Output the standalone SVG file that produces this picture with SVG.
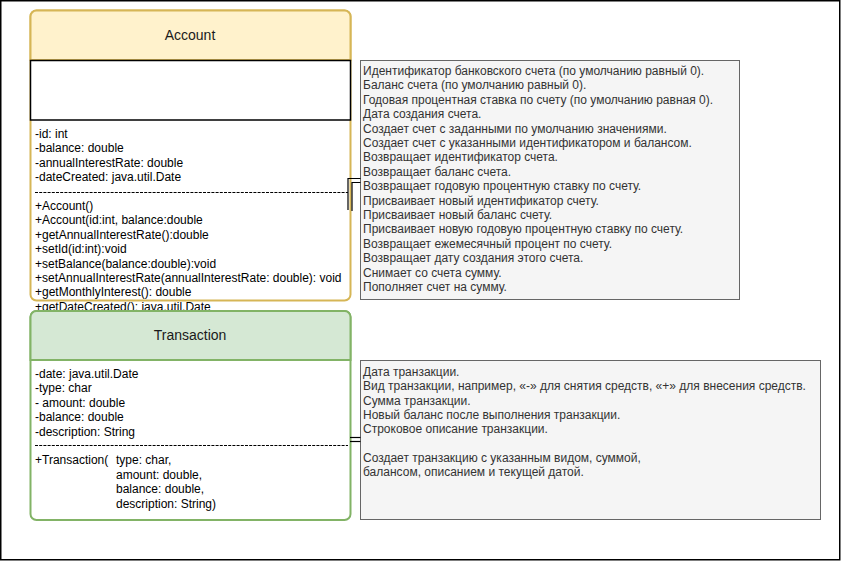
<svg xmlns="http://www.w3.org/2000/svg" width="841" height="561" viewBox="0 0 841 561">
<style>
  text { font-family: "Liberation Sans", Arial, sans-serif; font-size: 12px; fill: #000; }
  .title { font-size: 14px; fill: #1a1a1a; text-anchor: middle; }
  .note-text { fill: #333333; }
  .note { fill: #f5f5f5; stroke: #666666; stroke-width: 1; }
  .sep { stroke: #000; stroke-width: 1; stroke-dasharray: 3 1.2; }
  .conn { fill: none; stroke: #000; stroke-width: 1.2; }
</style>
<rect x="0.75" y="0.75" width="839" height="559" fill="#ffffff" stroke="#000" stroke-width="1.5"/>

<g id="account">
  <rect x="30.5" y="10.5" width="320" height="290" rx="6" ry="6" fill="#ffffff" stroke="#d6b656" stroke-width="2"/>
  <path d="M30.5,60 V16.5 A6,6 0 0 1 36.5,10.5 H344.5 A6,6 0 0 1 350.5,16.5 V60 Z" fill="#fff2cc" stroke="#d6b656" stroke-width="2"/>
  <text class="title" x="190" y="40">Account</text>
  <rect x="30.5" y="60.5" width="320" height="59.5" fill="#ffffff" stroke="#000" stroke-width="1.5"/>
  <text x="35" y="138">-id: int</text>
  <text x="35" y="152.4">-balance: double</text>
  <text x="35" y="166.8">-annualInterestRate: double</text>
  <text x="35" y="181.2">-dateCreated: java.util.Date</text>
  <line class="sep" x1="35" y1="192.5" x2="348" y2="192.5"/>
  <text x="35" y="210">+Account()</text>
  <text x="35" y="224.4">+Account(id:int, balance:double</text>
  <text x="35" y="238.8">+getAnnualInterestRate():double</text>
  <text x="35" y="253.2">+setId(id:int):void</text>
  <text x="35" y="267.6">+setBalance(balance:double):void</text>
  <text x="35" y="282">+setAnnualInterestRate(annualInterestRate: double): void</text>
  <text x="35" y="296.4">+getMonthlyInterest(): double</text>
  <text x="35" y="310.8">+getDateCreated(): java.util.Date</text>
</g>

<g id="transaction">
  <rect x="30.5" y="311" width="320" height="209" rx="6" ry="6" fill="#ffffff" stroke="#82b366" stroke-width="2"/>
  <path d="M30.5,360 V317 A6,6 0 0 1 36.5,311 H344.5 A6,6 0 0 1 350.5,317 V360 Z" fill="#d5e8d4" stroke="#82b366" stroke-width="2"/>
  <text class="title" x="190" y="340">Transaction</text>
  <text x="35" y="377.5">-date: java.util.Date</text>
  <text x="35" y="392">-type: char</text>
  <text x="35" y="406.5">- amount: double</text>
  <text x="35" y="421">-balance: double</text>
  <text x="35" y="435.5">-description: String</text>
  <line class="sep" x1="35" y1="445.5" x2="348" y2="445.5"/>
  <text x="35" y="464">+Transaction(</text>
  <text x="116" y="464">type: char,</text>
  <text x="116" y="478.5">amount: double,</text>
  <text x="116" y="493">balance: double,</text>
  <text x="116" y="507.5">description: String)</text>
</g>

<g id="note-account">
  <rect class="note" x="360.5" y="60.5" width="379" height="239"/>
  <text class="note-text" x="363" y="75">Идентификатор банковского счета (по умолчанию равный 0).</text>
  <text class="note-text" x="363" y="89.4">Баланс счета (по умолчанию равный 0).</text>
  <text class="note-text" x="363" y="103.8">Годовая процентная ставка по счету (по умолчанию равная 0).</text>
  <text class="note-text" x="363" y="118.2">Дата создания счета.</text>
  <text class="note-text" x="363" y="132.6">Создает счет с заданными по умолчанию значениями.</text>
  <text class="note-text" x="363" y="147">Создает счет с указанными идентификатором и балансом.</text>
  <text class="note-text" x="363" y="161.4">Возвращает идентификатор счета.</text>
  <text class="note-text" x="363" y="175.8">Возвращает баланс счета.</text>
  <text class="note-text" x="363" y="190.2">Возвращает годовую процентную ставку по счету.</text>
  <text class="note-text" x="363" y="204.6">Присваивает новый идентификатор счету.</text>
  <text class="note-text" x="363" y="219">Присваивает новый баланс счету.</text>
  <text class="note-text" x="363" y="233.4">Присваивает новую годовую процентную ставку по счету.</text>
  <text class="note-text" x="363" y="247.8">Возвращает ежемесячный процент по счету.</text>
  <text class="note-text" x="363" y="262.2">Возвращает дату создания этого счета.</text>
  <text class="note-text" x="363" y="276.6">Снимает со счета сумму.</text>
  <text class="note-text" x="363" y="291">Пополняет счет на сумму.</text>
</g>

<g id="note-transaction">
  <rect class="note" x="360.5" y="360.5" width="460" height="159"/>
  <text class="note-text" x="363" y="376">Дата транзакции.</text>
  <text class="note-text" x="363" y="390.3">Вид транзакции, например, «-» для снятия средств, «+» для внесения средств.</text>
  <text class="note-text" x="363" y="404.7">Сумма транзакции.</text>
  <text class="note-text" x="363" y="419">Новый баланс после выполнения транзакции.</text>
  <text class="note-text" x="363" y="433.3">Строковое описание транзакции.</text>
  <text class="note-text" x="363" y="462">Создает транзакцию с указанным видом, суммой,</text>
  <text class="note-text" x="363" y="476.3">балансом, описанием и текущей датой.</text>
</g>

<g id="connectors">
  <path class="conn" d="M360.5,178.5 H348 V210"/>
  <path class="conn" d="M360.5,182.5 H352 V211"/>
  <path class="conn" d="M350,437.5 H360.5"/>
  <path class="conn" d="M350,441.5 H360.5"/>
</g>
</svg>
